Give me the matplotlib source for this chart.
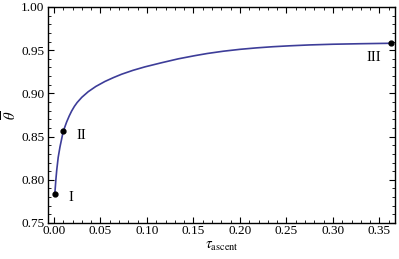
import numpy as np
import matplotlib.pyplot as plt
from matplotlib.ticker import MultipleLocator

# curve
tau = [0.001, 0.002, 0.003, 0.0046, 0.0065, 0.010, 0.0137, 0.0165, 0.019, 0.022,
       0.025, 0.030, 0.0369, 0.045, 0.0548, 0.064, 0.0728, 0.085, 0.0978, 0.1158,
       0.1337, 0.1516, 0.165, 0.182, 0.200, 0.218, 0.235, 0.2538, 0.275, 0.300,
       0.330, 0.362]
theta = [0.784, 0.799, 0.811, 0.826, 0.838, 0.856, 0.867, 0.874, 0.8795, 0.885,
         0.8895, 0.8955, 0.902, 0.908, 0.9138, 0.9183, 0.9222, 0.9267, 0.9307, 0.9355,
         0.9400, 0.9437, 0.9462, 0.9488, 0.9510, 0.9527, 0.9540, 0.9551, 0.9561, 0.9569,
         0.9575, 0.9580]

# marked points
pt_tau = [0.001, 0.010, 0.362]
pt_theta = [0.784, 0.856, 0.958]
pt_names = ["I", "II", "III"]
lab_tau = [0.018, 0.030, 0.344]
lab_theta = [0.779, 0.851, 0.942]

plt.rcParams['font.family'] = ['Liberation Serif', 'DejaVu Serif']
plt.rcParams['mathtext.fontset'] = 'stix'

fig = plt.figure(figsize=(3.99, 2.59), dpi=100)
ax = fig.add_axes([0.120, 0.139, 0.870, 0.834])

ax.plot(tau, theta, color='#3d3d99', linewidth=1.2)
ax.plot(pt_tau, pt_theta, 'o', color='black', markersize=3.5, clip_on=False, zorder=5)
for t, th, n in zip(lab_tau, lab_theta, pt_names):
    ax.text(t, th, n, fontsize=10.5, ha='center', va='center')

ax.set_xlim(-0.0065, 0.3667)
ax.set_ylim(0.75, 1.0)
ax.xaxis.set_major_locator(MultipleLocator(0.05))
ax.xaxis.set_minor_locator(MultipleLocator(0.01))
ax.yaxis.set_major_locator(MultipleLocator(0.05))
ax.yaxis.set_minor_locator(MultipleLocator(0.01))
ax.xaxis.set_major_formatter(lambda v, p: "%.2f" % v)
ax.yaxis.set_major_formatter(lambda v, p: "%.2f" % v)
ax.tick_params(which='both', direction='in', top=True, right=True, labelsize=9.5)
ax.tick_params(which='major', length=4, width=0.8)
ax.tick_params(which='minor', length=2, width=0.6)
ax.tick_params(axis='x', pad=1.5)
ax.tick_params(axis='y', pad=2.5)
for s in ax.spines.values():
    s.set_linewidth(1.0)

ax.set_xlabel(r'$\tau_{\mathrm{ascent}}$', fontsize=10.5, labelpad=2)
# y label drawn as text so its position can be set exactly
ax.text(-0.108, 0.50, r'$\overline{\theta}$', fontsize=10.5, rotation=90,
        ha='center', va='center', transform=ax.transAxes)

plt.savefig("out.png", dpi=100)
